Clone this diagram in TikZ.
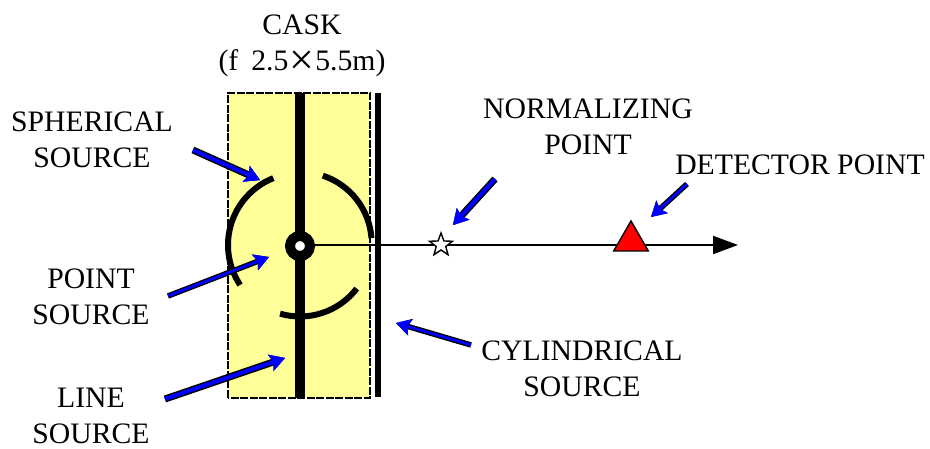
\documentclass[tikz,border=0pt]{standalone}
\usepackage{fontspec}
\setmainfont{Liberation Serif}
\usetikzlibrary{arrows.meta,shapes.geometric}
\definecolor{caskyellow}{HTML}{FFFF99}
\tikzset{
  lbl/.style={font=\fontsize{29.7}{36}\selectfont,align=center,inner sep=0pt},
  ptr/.style={line width=5.5pt,draw=black,-{Stealth[length=15pt,width=17pt,inset=3pt,fill=blue,line width=1.4pt]},
    postaction={draw=blue,line width=2.8pt}},
  ptrthick/.style={ptr,line width=7pt,postaction={draw=blue,line width=4pt}},
  src/.style={line width=6pt}
}
\begin{document}
\begin{tikzpicture}[x=1pt,y=1pt]
  \useasboundingbox (0,0) rectangle (930,449);
  % cask
  \fill[caskyellow] (228,51) rectangle (370,356);
  \draw[line width=1.6pt,dash pattern=on 8pt off 1.5pt] (228,51) rectangle (370,356);
  % line source, cylindrical source
  \fill (295,51) rectangle (305,356);
  \fill (375,52) rectangle (381,356);
  % spherical source
  \draw[src] (300,204) ++(111.7:72) arc (111.7:213.7:72pt);
  \draw[src] (300,204) ++(71.8:73) arc (71.8:4:71pt);
  \draw[src] (300,204) ++(253.8:71.5) arc (253.8:322.5:71.5pt);
  % point source
  \node[circle,draw,fill=white,line width=10pt,minimum size=20pt,inner sep=0pt] (ring) at (300,203) {};
  % axis
  \coordinate (axisend) at (738,204);
  \draw[line width=2pt,-{Triangle[length=25pt,width=18pt]}] (ring.east |- axisend) -- (axisend);
  \node[star,star points=5,star point ratio=2.4,draw,fill=white,line width=1.4pt,minimum size=24pt,inner sep=0pt] (norm) at (441,204) {};
  \node[regular polygon,regular polygon sides=3,draw,fill=red,line width=1.4pt,minimum size=40pt,inner sep=0pt] (det) at (631,208) {};
  % labels
  \node[lbl] (cask) at (302,403) {CASK\\(f\hspace{13pt}2.5\hspace{1pt}\smash{\raisebox{-3.5pt}{\fontsize{44}{36}\selectfont ×}}\hspace{1pt}5.5m)};
  \node[lbl] (sph) at (92,309) {SPHERICAL\\SOURCE};
  \node[lbl] (pnt) at (91,152) {POINT\\SOURCE};
  \node[lbl] (lin) at (91,33) {LINE\\SOURCE};
  \node[lbl] (nrm) at (588,322) {NORMALIZING\\POINT};
  \node[lbl] (dtc) at (800,284) {DETECTOR POINT};
  \node[lbl] (cyl) at (582,80) {CYLINDRICAL\\SOURCE};
  % pointers
  \draw[ptrthick] (193,299) -- (260,269);
  \draw[ptr] (168,153) -- (269,192);
  \draw[ptrthick] (165,50) -- (285,91);
  \draw[ptrthick] (495,270) -- (453,224);
  \draw[ptr] (687,265) -- (651,232);
  \draw[ptr] (471,104) -- (396,126);
\end{tikzpicture}
\end{document}
